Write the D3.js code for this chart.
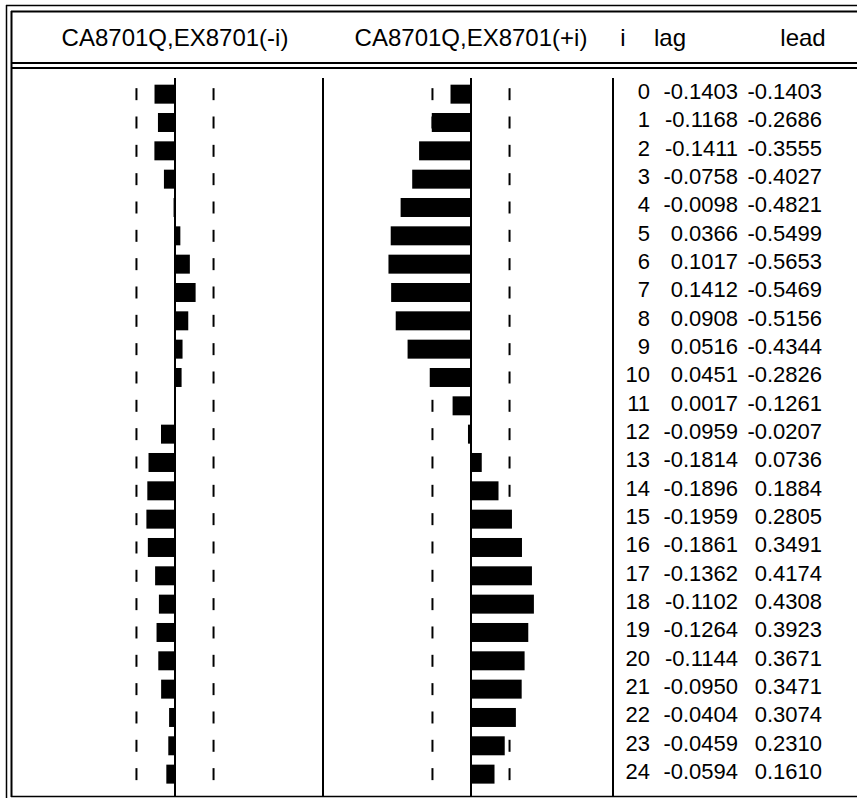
<!DOCTYPE html>
<html>
<head>
<meta charset="utf-8">
<script src="https://cdn.jsdelivr.net/npm/d3@7"></script>
<style>
  body { margin: 0; background: #fff; }
  text { font-family: "Liberation Sans", Arial, sans-serif; fill: #000; }
</style>
</head>
<body>
<div id="chart"></div>
<script>
// cross correlogram values
var lags = d3.range(0, 25);
var lagVals = [-0.1403, -0.1168, -0.1411, -0.0758, -0.0098, 0.0366, 0.1017, 0.1412, 0.0908, 0.0516,
               0.0451, 0.0017, -0.0959, -0.1814, -0.1896, -0.1959, -0.1861, -0.1362, -0.1102, -0.1264,
               -0.1144, -0.0950, -0.0404, -0.0459, -0.0594];
var leadVals = [-0.1403, -0.2686, -0.3555, -0.4027, -0.4821, -0.5499, -0.5653, -0.5469, -0.5156, -0.4344,
                -0.2826, -0.1261, -0.0207, 0.0736, 0.1884, 0.2805, 0.3491, 0.4174, 0.4308, 0.3923,
                0.3671, 0.3471, 0.3074, 0.2310, 0.1610];
var band = 0.264; // approx 2 s.e.
var headers = ["CA8701Q,EX8701(-i)", "CA8701Q,EX8701(+i)", "i", "lag", "lead"];

var svgWidth = 857, svgHeight = 798;

var svg = d3.select("#chart").append("svg")
  .attr("width", svgWidth)
  .attr("height", svgHeight);

// row positions
var yScale = d3.scaleBand()
  .domain(lags)
  .range([80, 788.3])
  .paddingInner(0.33)
  .paddingOuter(0.165);

// bar scales for the two panels
var half = 146;
var xLeft = d3.scaleLinear().domain([-1, 1]).range([175 - half, 175 + half]);
var xRight = d3.scaleLinear().domain([-1, 1]).range([471 - half, 471 + half]);

// frame lines
function hline(y, x1, x2, w) {
  svg.append("line").attr("x1", x1).attr("x2", x2).attr("y1", y).attr("y2", y)
    .attr("stroke", "#000").attr("stroke-width", w);
}
function vline(x, y1, y2, w) {
  svg.append("line").attr("x1", x).attr("x2", x).attr("y1", y1).attr("y2", y2)
    .attr("stroke", "#000").attr("stroke-width", w);
}
hline(5.5, 6, svgWidth, 1.5);
vline(6.5, 5, svgHeight, 1.5);
hline(11.5, 11, svgWidth, 2);
vline(11.5, 11, 797, 2);
hline(63, 11, svgWidth, 2);
hline(68, 11, svgWidth, 2);
hline(796.5, 11, svgWidth, 1.5);

// headers
var headX = [175, 471, 623, 670, 803];
svg.selectAll(".head")
  .data(headers)
  .enter()
  .append("text")
  .attr("class", "head")
  .attr("x", (d, i) => headX[i])
  .attr("y", 46)
  .attr("text-anchor", "middle")
  .attr("font-size", 24)
  .text(d => d);

// panel separators
vline(323, 78, 796, 2);
vline(613, 78, 796, 2);

function panel(x, vals) {
  var g = svg.append("g");
  g.selectAll("rect")
    .data(vals)
    .enter()
    .append("rect")
    .attr("x", d => Math.min(x(0), x(d)))
    .attr("width", d => Math.abs(x(d) - x(0)))
    .attr("y", (d, i) => yScale(lags[i]))
    .attr("height", yScale.bandwidth())
    .attr("fill", "#000");

  // dashed confidence bands
  [-band, band].forEach(function(b) {
    g.selectAll(null)
      .data(lags)
      .enter()
      .append("line")
      .attr("x1", x(b)).attr("x2", x(b))
      .attr("y1", d => yScale(d) + yScale.bandwidth() / 2 - 6)
      .attr("y2", d => yScale(d) + yScale.bandwidth() / 2 + 6)
      .attr("stroke", "#000")
      .attr("stroke-width", 2);
  });

  // zero line
  g.append("line")
    .attr("x1", x(0)).attr("x2", x(0))
    .attr("y1", 78).attr("y2", 796)
    .attr("stroke", "#000")
    .attr("stroke-width", 2);
}
panel(xLeft, lagVals);
panel(xRight, leadVals);

// numeric columns
var cols = [
  { x: 650, get: i => String(lags[i]) },
  { x: 738, get: i => lagVals[i].toFixed(4) },
  { x: 822, get: i => leadVals[i].toFixed(4) }
];
cols.forEach(function(c) {
  svg.selectAll(null)
    .data(lags)
    .enter()
    .append("text")
    .attr("x", c.x)
    .attr("y", d => yScale(d) + yScale.bandwidth() / 2 + 5)
    .attr("text-anchor", "end")
    .attr("font-size", 22)
    .text((d, i) => c.get(i));
});
</script>
</body>
</html>
